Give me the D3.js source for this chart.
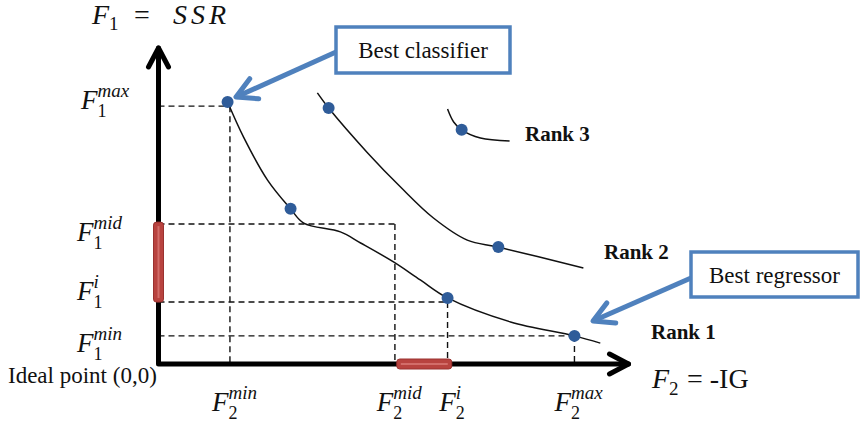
<!DOCTYPE html>
<html>
<head>
<meta charset="utf-8">
<script src="https://cdn.jsdelivr.net/npm/d3@7"></script>
<style>
  body { margin: 0; background: #fff; }
  svg { display: block; }
</style>
</head>
<body>
<svg></svg>
<script>
// both objectives in diagram units 0..100 (0,0 = ideal point)
var rank1Points = [[14.7, 82.9], [28.1, 49.1], [61.5, 20.9], [88.5, 8.9]];
var rank2Points = [[36.2, 81.0], [72.3, 37.0]];
var rank3Points = [[64.5, 74.1]];

var rank1Curve = [[14.7, 82.9], [18.1, 71.8], [23.2, 58.2], [28.1, 49.1], [30.9, 44.6], [38.7, 41.8],
  [43.0, 38.3], [50.0, 32.3], [55.7, 26.6], [61.5, 20.9], [74.9, 13.3], [88.5, 8.9], [94.0, 6.6]];
var rank2Curve = [[33.8, 85.8], [36.2, 81.0], [44.5, 66.8], [51.5, 56.0], [58.5, 46.2],
  [65.7, 39.2], [72.3, 37.0], [90.4, 30.4]];
var rank3Curve = [[61.5, 80.7], [62.8, 76.6], [64.5, 74.1], [68.5, 71.5], [74.7, 70.6]];

var f1Guides = [
  { sup: "max", f1: 81.6, f2: 14.7 },
  { sup: "mid", f1: 44.3, f2: 50.3 },
  { sup: "i", f1: 19.6, f2: 61.5 },
  { sup: "min", f1: 8.9, f2: 88.5 }
];
var f2Guides = [
  { sup: "min", f2: 15.2, f1: 81.6 },
  { sup: "mid", f2: 50.3, f1: 44.3 },
  { sup: "i", f2: 61.5, f1: 19.6 },
  { sup: "max", f2: 88.5, f1: 8.9 }
];
var f1Range = [19.6, 44.9];
var f2Range = [50.7, 62.4];

var rankNames = ["Rank 1", "Rank 2", "Rank 3"];

window.onload = function() {
  var width = 861;
  var height = 425;

  var svg = d3.select("svg")
    .attr("width", width)
    .attr("height", height);

  var x = d3.scaleLinear().domain([0, 100]).range([158.5, 628.5]);
  var y = d3.scaleLinear().domain([0, 100]).range([364, 48]);

  var serif = "'Liberation Serif', 'Times New Roman', serif";

  // dashed guides
  var guides = svg.append("g")
    .attr("stroke", "#111")
    .attr("stroke-width", 1.4)
    .attr("stroke-dasharray", "6,4")
    .attr("fill", "none");

  f1Guides.forEach(function(g) {
    guides.append("line")
      .attr("x1", x(0)).attr("x2", x(g.f2))
      .attr("y1", y(g.f1)).attr("y2", y(g.f1));
  });
  f2Guides.forEach(function(g) {
    guides.append("line")
      .attr("x1", x(g.f2)).attr("x2", x(g.f2))
      .attr("y1", y(g.f1)).attr("y2", y(0));
  });

  // axes with open arrow heads
  var axes = svg.append("g")
    .attr("stroke", "#000")
    .attr("stroke-width", 5)
    .attr("fill", "none")
    .attr("stroke-linecap", "round")
    .attr("stroke-linejoin", "round");

  axes.append("path")
    .attr("d", "M" + x(0) + "," + y(100) + "V" + y(0) + "H" + x(100));
  axes.append("path")
    .attr("d", "M" + (x(0) - 10) + "," + (y(100) + 19) + "L" + x(0) + "," + y(100) + "L" + (x(0) + 10) + "," + (y(100) + 19));
  axes.append("path")
    .attr("d", "M" + (x(100) - 19) + "," + (y(0) - 10) + "L" + x(100) + "," + y(0) + "L" + (x(100) - 19) + "," + (y(0) + 10));

  // red ranges on the axes
  var bars = svg.append("g");
  bars.append("rect")
    .attr("x", x(0) - 5).attr("width", 10)
    .attr("y", y(f1Range[1])).attr("height", y(f1Range[0]) - y(f1Range[1]))
    .attr("rx", 3)
    .attr("fill", "#b8433f").attr("stroke", "#9a3230").attr("stroke-width", 1);
  bars.append("line")
    .attr("x1", x(0)).attr("x2", x(0))
    .attr("y1", y(f1Range[1]) + 4).attr("y2", y(f1Range[0]) - 4)
    .attr("stroke", "#d26d69").attr("stroke-width", 2);
  bars.append("rect")
    .attr("y", y(0) - 5).attr("height", 10)
    .attr("x", x(f2Range[0])).attr("width", x(f2Range[1]) - x(f2Range[0]))
    .attr("rx", 3)
    .attr("fill", "#b8433f").attr("stroke", "#9a3230").attr("stroke-width", 1);
  bars.append("line")
    .attr("y1", y(0)).attr("y2", y(0))
    .attr("x1", x(f2Range[0]) + 4).attr("x2", x(f2Range[1]) - 4)
    .attr("stroke", "#d26d69").attr("stroke-width", 2);

  // pareto fronts
  var line = d3.line()
    .x(function(d) { return x(d[0]); })
    .y(function(d) { return y(d[1]); })
    .curve(d3.curveCatmullRom.alpha(0.5));

  svg.append("g").selectAll("path")
    .data([rank1Curve, rank2Curve, rank3Curve])
    .enter()
    .append("path")
    .attr("d", line)
    .attr("fill", "none")
    .attr("stroke", "#111")
    .attr("stroke-width", 1.5);

  svg.append("g").selectAll("circle")
    .data(rank1Points.concat(rank2Points, rank3Points))
    .enter()
    .append("circle")
    .attr("cx", function(d) { return x(d[0]); })
    .attr("cy", function(d) { return y(d[1]); })
    .attr("r", 6)
    .attr("fill", "#2f5c99");

  // rank labels
  var rankPos = { "Rank 1": [651, 339], "Rank 2": [604, 259], "Rank 3": [525, 141] };
  svg.append("g").selectAll("text")
    .data(rankNames)
    .enter()
    .append("text")
    .attr("x", function(d) { return rankPos[d][0]; })
    .attr("y", function(d) { return rankPos[d][1]; })
    .attr("font-family", serif)
    .attr("font-weight", "bold")
    .attr("font-size", 21)
    .attr("fill", "#111")
    .text(function(d) { return d; });

  // F_k^sup label as one text: left edge at lx, baseline at ly
  function mathLabel(lx, ly, sub, sup) {
    var t = svg.append("text")
      .attr("x", lx).attr("y", ly)
      .attr("font-family", serif)
      .attr("fill", "#111");
    t.append("tspan").attr("font-size", 27).attr("font-style", "italic").text("F");
    t.append("tspan").attr("font-size", 18).attr("dy", 8).text(sub);
    t.append("tspan").attr("font-size", 19).attr("font-style", "italic")
      .attr("dx", -9).attr("dy", -20).text(sup);
    return t;
  }

  var f1Dy = { max: 3, mid: 17, i: -2, min: 16 };
  f1Guides.forEach(function(g) {
    mathLabel(g.sup == "max" ? 81 : 77, y(g.f1) + f1Dy[g.sup], "1", g.sup);
  });

  f2Guides.forEach(function(g) {
    var lab = mathLabel(0, 411, "2", g.sup);
    var w = lab.node().getBBox().width;
    lab.attr("x", x(g.f2) + 5 - w / 2);
  });

  // axis titles
  var t1 = svg.append("text").attr("x", 92).attr("y", 24)
    .attr("font-family", serif).attr("fill", "#111").attr("font-size", 28);
  t1.append("tspan").attr("font-style", "italic").text("F");
  t1.append("tspan").attr("font-size", 19).attr("dy", 6).text("1");
  t1.append("tspan").attr("x", 134).attr("dy", -6).text("=");
  t1.append("tspan").attr("x", 173).attr("font-style", "italic").attr("letter-spacing", 4).text("SSR");

  var t2 = svg.append("text").attr("x", 652).attr("y", 388)
    .attr("font-family", serif).attr("fill", "#111").attr("font-size", 28);
  t2.append("tspan").attr("font-style", "italic").text("F");
  t2.append("tspan").attr("font-size", 19).attr("dy", 7).text("2");
  t2.append("tspan").attr("x", 687).attr("dy", -7).text("= -IG");

  svg.append("text")
    .attr("x", 8).attr("y", 383)
    .attr("font-family", serif)
    .attr("font-size", 23)
    .attr("fill", "#111")
    .text("Ideal point (0,0)");

  // callouts
  var callouts = [
    { text: "Best classifier", box: [336, 27, 174, 46], from: [336, 52], to: [236, 97] },
    { text: "Best regressor", box: [691, 252, 167, 45], from: [691, 278], to: [593, 321] }
  ];
  callouts.forEach(function(c) {
    var g = svg.append("g");
    var dx = c.to[0] - c.from[0], dy = c.to[1] - c.from[1];
    var len = Math.sqrt(dx * dx + dy * dy);
    var ux = dx / len, uy = dy / len;
    var hx = c.to[0] - ux * 20, hy = c.to[1] - uy * 20;
    g.append("line")
      .attr("x1", c.from[0]).attr("y1", c.from[1])
      .attr("x2", c.to[0]).attr("y2", c.to[1])
      .attr("stroke", "#4f81bd").attr("stroke-width", 5);
    g.append("path")
      .attr("d", "M" + (hx - uy * 11) + "," + (hy + ux * 11) + "L" + c.to[0] + "," + c.to[1] +
        "L" + (hx + uy * 11) + "," + (hy - ux * 11))
      .attr("fill", "none")
      .attr("stroke", "#4f81bd").attr("stroke-width", 5)
      .attr("stroke-linecap", "round").attr("stroke-linejoin", "round");
    g.append("rect")
      .attr("x", c.box[0]).attr("y", c.box[1])
      .attr("width", c.box[2]).attr("height", c.box[3])
      .attr("fill", "#fff")
      .attr("stroke", "#4f81bd").attr("stroke-width", 3.5);
    g.append("text")
      .attr("x", c.box[0] + c.box[2] / 2)
      .attr("y", c.box[1] + c.box[3] / 2 + 8)
      .attr("text-anchor", "middle")
      .attr("font-family", serif)
      .attr("font-size", 23)
      .attr("fill", "#111")
      .text(c.text);
  });
};
</script>
</body>
</html>
